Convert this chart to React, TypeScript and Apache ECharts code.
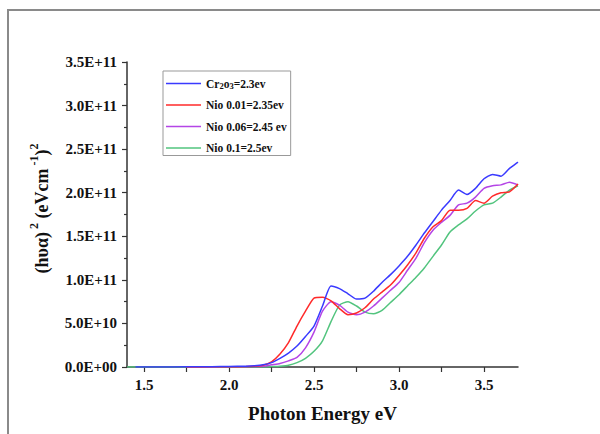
import React, { useEffect, useRef } from "react";
import * as echarts from "echarts";

// Photon energy (eV)
const energy = [
  1.4, 1.45, 1.6, 1.75, 1.9, 2.0, 2.1, 2.15, 2.2, 2.25, 2.3, 2.35, 2.4, 2.45, 2.5,
  2.55, 2.6, 2.65, 2.7, 2.75, 2.8, 2.85, 2.9, 2.95, 3.0, 3.05, 3.1, 3.15, 3.2,
  3.25, 3.3, 3.35, 3.4, 3.45, 3.5, 3.55, 3.6, 3.65, 3.7,
];

// (hνα)^2 in units of 1E+11
const cr2o3 = [
  null, 0.0, 0.0, 0.002, 0.004, 0.006, 0.01, 0.015, 0.025, 0.05, 0.1, 0.16, 0.24, 0.35, 0.47,
  0.7, 0.93, 0.9, 0.84, 0.78, 0.79, 0.87, 0.97, 1.06, 1.16, 1.27, 1.4, 1.54, 1.67,
  1.8, 1.91, 2.03, 1.98, 2.05, 2.16, 2.21, 2.19, 2.28, 2.35,
];
const nio001 = [
  null, null, null, 0.0, 0.002, 0.003, 0.006, 0.01, 0.02, 0.06, 0.15, 0.28, 0.47, 0.64, 0.79,
  0.8, 0.76, 0.67, 0.6, 0.62, 0.68, 0.78, 0.86, 0.94, 1.05, 1.17, 1.31, 1.48, 1.61,
  1.68, 1.8, 1.8, 1.82, 1.91, 1.88, 1.96, 2.0, 2.01, 2.1,
];
const nio006 = [
  null, null, null, 0.0, 0.001, 0.002, 0.004, 0.006, 0.01, 0.025, 0.04, 0.07, 0.11, 0.22, 0.4,
  0.64, 0.75, 0.71, 0.63, 0.6, 0.63, 0.7, 0.79, 0.88, 0.97, 1.11, 1.25, 1.43, 1.57,
  1.66, 1.74, 1.86, 1.88, 1.95, 2.05, 2.08, 2.09, 2.12, 2.09,
];
const nio01 = [
  0.0, 0.0, 0.0, 0.0, 0.0, 0.0, 0.0, 0.0, 0.0, 0.005, 0.01, 0.02, 0.05, 0.1, 0.18,
  0.3, 0.52, 0.71, 0.75, 0.7, 0.63, 0.61, 0.65, 0.74, 0.83, 0.93, 1.03, 1.14, 1.27,
  1.4, 1.55, 1.63, 1.7, 1.79, 1.86, 1.88, 1.95, 2.03, 2.08,
];

const seriesNames = ["Cr2o3=2.3ev", "Nio 0.01=2.35ev", "Nio 0.06=2.45 ev", "Nio 0.1=2.5ev"];
const seriesColors = ["#3a3aff", "#ff2a2a", "#b445e6", "#52c47e"];
const seriesValues = [cr2o3, nio001, nio006, nio01];

const xLabelValues = [1.5, 2.0, 2.5, 3.0, 3.5];
const xTickValues = [1.5, 1.75, 2.0, 2.25, 2.5, 2.75, 3.0, 3.25, 3.5];
const yTickLabels = [
  "0.0E+00", "5.0E+10", "1.0E+11", "1.5E+11", "2.0E+11", "2.5E+11", "3.0E+11", "3.5E+11",
];

const SERIF = "'Liberation Serif', 'Times New Roman', serif";

export default function App() {
  const ref = useRef<HTMLDivElement>(null);
  useEffect(() => {
    if (!ref.current) return;
    const chart = echarts.init(ref.current, undefined, { renderer: "svg" });
    const series = seriesValues.map((vals, i) => ({
      name: seriesNames[i],
      type: "line",
      symbol: "none",
      smooth: 0.2,
      connectNulls: false,
      lineStyle: { width: 1.5, color: seriesColors[i] },
      itemStyle: { color: seriesColors[i] },
      data: energy.map((e, j) => [e, vals[j] == null ? null : (vals[j] as number) * 1e11]),
      z: 4 - i,
    }));
    chart.setOption({
      animation: false,
      backgroundColor: "#ffffff",
      graphic: [
        {
          type: "rect",
          shape: { x: 8, y: 10, width: 620, height: 460 },
          style: { fill: "none", stroke: "#8a8a8a", lineWidth: 2 },
          silent: true,
        },
      ],
      grid: { left: 127, right: 82, top: 62, bottom: 67 },
      legend: {
        orient: "vertical",
        left: 163,
        top: 71,
        icon: "rect",
        itemWidth: 35,
        itemHeight: 1.5,
        itemGap: 8.5,
        padding: [6, 4, 1, 3],
        borderColor: "#999",
        borderWidth: 1,
        data: seriesNames,
        formatter: (name: string) =>
          name === "Cr2o3=2.3ev" ? "Cr{sub|2}o{sub|3}=2.3ev" : name,
        textStyle: {
          fontFamily: SERIF,
          fontWeight: "bold",
          fontSize: 11.5,
          color: "#111",
          lineHeight: 13,
          rich: {
            sub: {
              fontFamily: SERIF,
              fontWeight: "bold",
              fontSize: 8.5,
              lineHeight: 8,
              verticalAlign: "bottom",
              color: "#111",
            },
          },
        },
      },
      xAxis: {
        type: "value",
        min: 1.4,
        max: 3.7,
        name: "Photon Energy eV",
        nameLocation: "middle",
        nameGap: 37,
        nameTextStyle: { fontFamily: SERIF, fontWeight: "bold", fontSize: 19, color: "#111" },
        axisLine: { show: true, onZero: false, lineStyle: { color: "#333", width: 1.5 } },
        axisTick: {
          show: true,
          inside: false,
          length: 5,
          customValues: xTickValues,
          lineStyle: { color: "#333", width: 1.2 },
        },
        axisLabel: {
          customValues: xLabelValues,
          formatter: (v: number) => v.toFixed(1),
          fontFamily: SERIF,
          fontWeight: "bold",
          fontSize: 15,
          color: "#111",
          margin: 10,
        },
        splitLine: { show: false },
      },
      yAxis: {
        type: "value",
        min: 0,
        max: 3.5e11,
        interval: 0.5e11,
        name: "{a|(hυα)}{s| 2}{a| (eVcm}{s| -1}{a|)}{s|2}",
        nameLocation: "middle",
        nameGap: 76,
        nameRotate: 90,
        nameTextStyle: {
          fontFamily: SERIF,
          fontWeight: "bold",
          color: "#111",
          padding: [0, 0, 0, 12],
          rich: {
            a: { fontFamily: SERIF, fontWeight: "bold", fontSize: 18, lineHeight: 23, color: "#111", verticalAlign: "bottom" },
            s: { fontFamily: SERIF, fontWeight: "bold", fontSize: 12, lineHeight: 12, color: "#111", verticalAlign: "top" },
          },
        },
        axisLine: { show: true, lineStyle: { color: "#333", width: 1.5 } },
        axisTick: { show: true, inside: false, length: 5, lineStyle: { color: "#333", width: 1.2 } },
        minorTick: { show: true, splitNumber: 2, length: 3, lineStyle: { color: "#333", width: 1.2 } },
        axisLabel: {
          formatter: (v: number) => yTickLabels[Math.round(v / 0.5e11)] ?? "",
          fontFamily: SERIF,
          fontWeight: "bold",
          fontSize: 15,
          color: "#111",
          margin: 10,
        },
        splitLine: { show: false },
      },
      series,
    });
    return () => chart.dispose();
  }, []);
  return (
    <div
      ref={ref}
      style={{ position: "fixed", left: 0, top: 0, width: 600, height: 434, background: "#fff" }}
    />
  );
}
